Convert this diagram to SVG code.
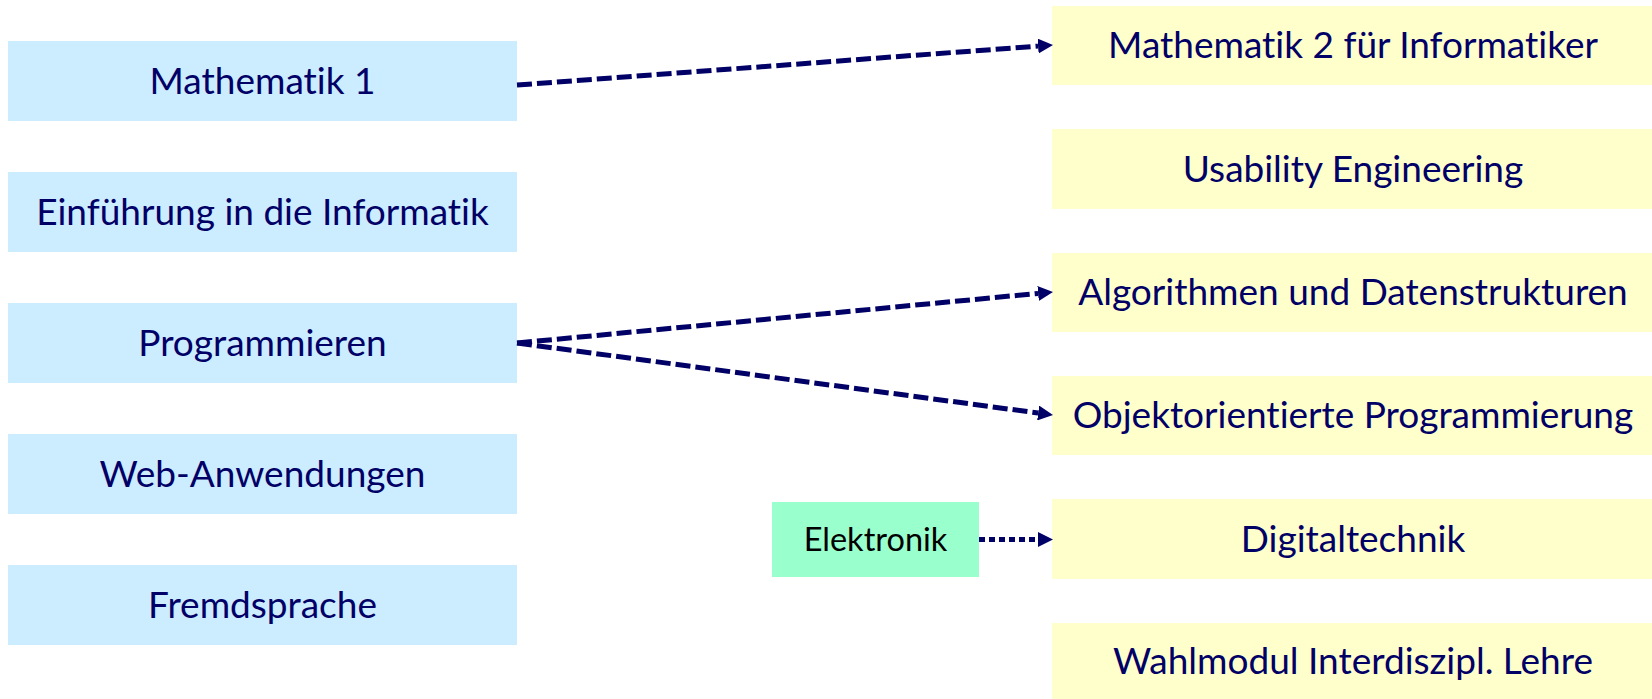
<svg xmlns="http://www.w3.org/2000/svg" width="1652" height="699" viewBox="0 0 1652 699">
  <style>
    .blue { fill: #CCECFF; }
    .yellow { fill: #FFFFCC; }
    .green { fill: #99FFCC; }
    text { font-variant-ligatures: none; font-feature-settings: "liga" 0, "clig" 0; }
    .t { font-family: Lato, "Liberation Sans", sans-serif; font-size: 37px; fill: #000066; text-anchor: middle; }
    .ts { font-family: Lato, "Liberation Sans", sans-serif; font-size: 32.5px; fill: #000000; text-anchor: middle; }
    .dash { stroke: #000066; stroke-width: 5; fill: none; stroke-dasharray: 15 5; }
    .dot { stroke: #000066; stroke-width: 5; fill: none; stroke-dasharray: 6 4; }
  </style>
  <defs>
    <marker id="arrow" markerUnits="userSpaceOnUse" markerWidth="15" markerHeight="15" viewBox="0 -7.5 15 15" refX="0" refY="0" orient="auto">
      <path d="M0,-7.5 L15,0 L0,7.5 z" fill="#000066"/>
    </marker>
  </defs>
  <rect width="1652" height="699" fill="#FFFFFF"/>

  <g id="mathe1"><rect class="blue" x="8" y="41" width="509" height="80"/><text class="t" x="262.5" y="94">Mathematik 1</text></g>
  <g id="einfuehrung"><rect class="blue" x="8" y="172" width="509" height="80"/><text class="t" x="262.5" y="225">Einführung in die Informatik</text></g>
  <g id="programmieren"><rect class="blue" x="8" y="303" width="509" height="80"/><text class="t" x="262.5" y="356">Programmieren</text></g>
  <g id="webanwendungen"><rect class="blue" x="8" y="434" width="509" height="80"/><text class="t" x="262.5" y="487">Web-Anwendungen</text></g>
  <g id="fremdsprache"><rect class="blue" x="8" y="565" width="509" height="80"/><text class="t" x="262.5" y="618">Fremdsprache</text></g>

  <g id="mathe2"><rect class="yellow" x="1052" y="6" width="600" height="79"/><text class="t" x="1353" y="58">Mathematik 2 für Informatiker</text></g>
  <g id="usability"><rect class="yellow" x="1052" y="129" width="600" height="80"/><text class="t" x="1353" y="182">Usability Engineering</text></g>
  <g id="algorithmen"><rect class="yellow" x="1052" y="253" width="600" height="79"/><text class="t" x="1353" y="305">Algorithmen und Datenstrukturen</text></g>
  <g id="oop"><rect class="yellow" x="1052" y="376" width="600" height="79"/><text class="t" x="1353" y="428">Objektorientierte Programmierung</text></g>
  <g id="digitaltechnik"><rect class="yellow" x="1052" y="499" width="600" height="80"/><text class="t" x="1353" y="552">Digitaltechnik</text></g>
  <g id="wahlmodul"><rect class="yellow" x="1052" y="623" width="600" height="76"/><text class="t" x="1353" y="674">Wahlmodul Interdiszipl. Lehre</text></g>

  <g id="elektronik"><rect class="green" x="772" y="502" width="207" height="75"/><text class="ts" x="875.5" y="551">Elektronik</text></g>

  <g id="connectors">
    <line class="dash" x1="517" y1="85" x2="1038.04" y2="46.12" marker-end="url(#arrow)"/>
    <line class="dash" x1="517" y1="343" x2="1038.07" y2="293.42" marker-end="url(#arrow)"/>
    <line class="dash" x1="517" y1="343" x2="1038.13" y2="413.00" marker-end="url(#arrow)"/>
    <line class="dot" x1="979" y1="539.5" x2="1038" y2="539.5" marker-end="url(#arrow)"/>
  </g>
</svg>
